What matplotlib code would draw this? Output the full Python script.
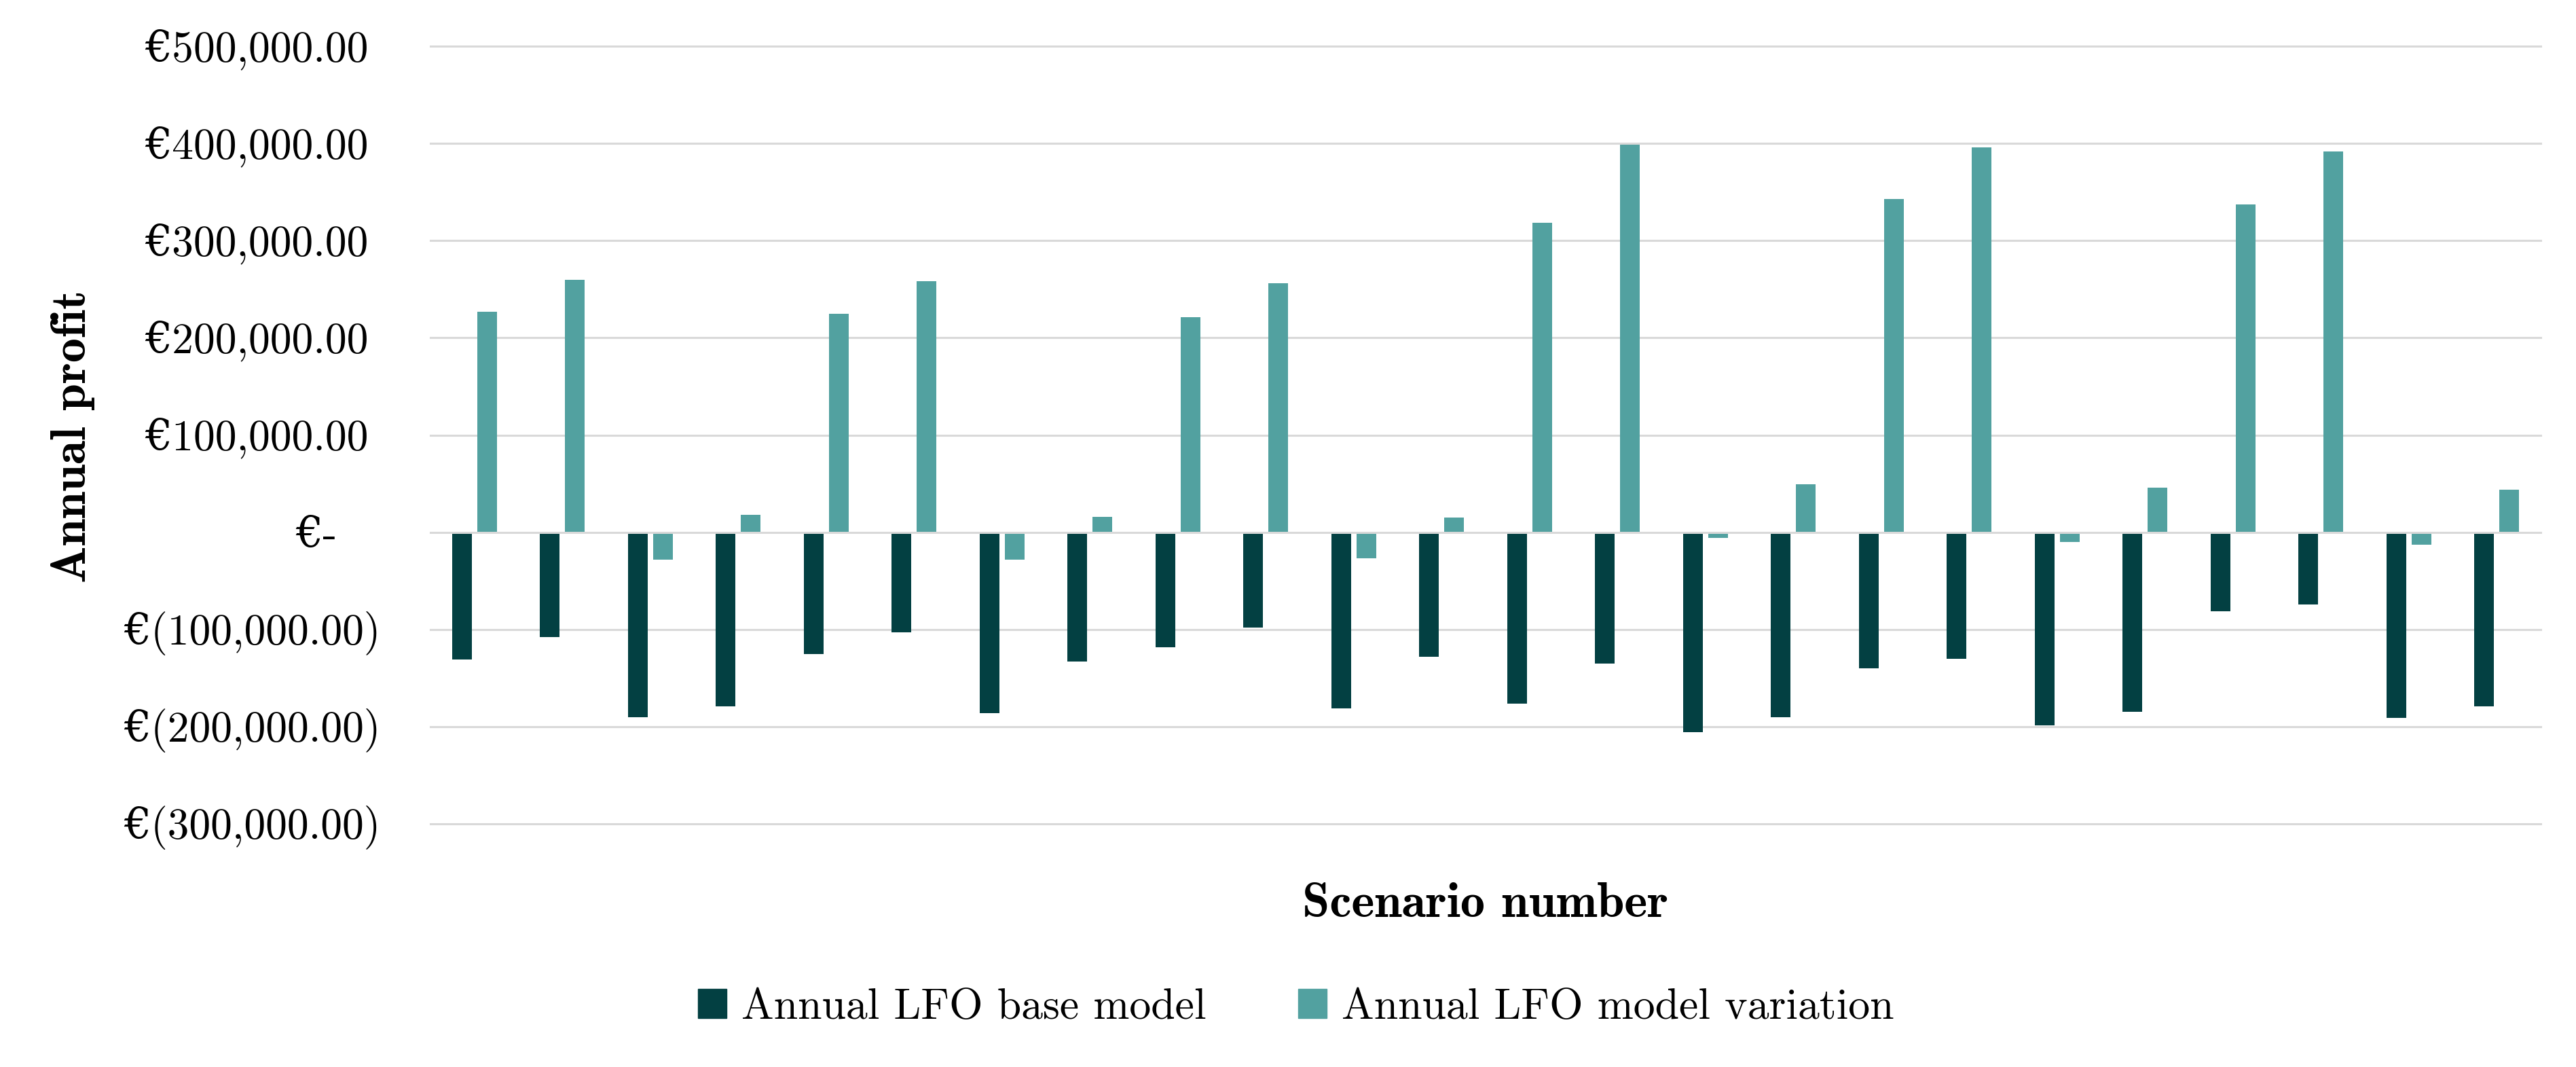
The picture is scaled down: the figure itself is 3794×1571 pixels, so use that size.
import matplotlib
matplotlib.use("Agg")
import matplotlib.pyplot as plt
import matplotlib.transforms as mtransforms
import numpy as np
from matplotlib.patches import Patch

# ---- data ----
scenarios = list(range(1, 25))
base_model = [-131000, -108000, -190000, -179000, -125000, -103000, -186000, -133000,
              -118000, -98000, -181000, -128000, -176000, -135000, -206000, -190000,
              -140000, -130000, -199000, -185000, -81000, -74000, -191000, -179000]
model_variation = [227000, 260000, -28000, 18000, 225000, 258000, -28000, 16000,
                   221000, 256000, -27000, 15000, 318000, 399000, -6000, 49000,
                   343000, 396000, -10000, 46000, 337000, 392000, -13000, 44000]
series_names = ["Annual LFO base model", "Annual LFO model variation"]
y_ticks = [-300000, -200000, -100000, 0, 100000, 200000, 300000, 400000, 500000]
y_tick_labels = ["€(300,000.00)", "€(200,000.00)", "€(100,000.00)", "€-",
                 "€100,000.00", "€200,000.00", "€300,000.00", "€400,000.00", "€500,000.00"]
x_label = "Scenario number"
y_label = "Annual profit"

# ---- style ----
C_BASE = "#034042"
C_VAR = "#52A1A0"
GRID = "#D9D9D9"
REG = ["cmr10", "DejaVu Serif"]
BOLD = ["cmb10", "DejaVu Serif"]
DPI = 100

W, H = 3794, 1571
fig = plt.figure(figsize=(W / DPI, H / DPI), dpi=DPI)
renderer = fig.canvas.get_renderer()


def fit_size(s, family, target_px):
    t = fig.text(0, 0, s, family=family, fontsize=40)
    bb = t.get_window_extent(renderer)
    t.remove()
    return 40 * target_px / bb.width


FS_TICK = fit_size("€500,000.00", REG, 329)
FS_YLAB = fit_size(y_label, BOLD, 431)
FS_XLAB = fit_size(x_label, BOLD, 539)
FS_LEG = fit_size(series_names[0], REG, 685)

L, R, T, B = 634, 3742, 68, 1213
ax = fig.add_axes([L / W, 1 - B / H, (R - L) / W, (B - T) / H])

x = np.arange(len(scenarios))
bw = 0.222
off = 0.142
ax.bar(x - off, base_model, width=bw, color=C_BASE, zorder=2)
ax.bar(x + off, model_variation, width=bw, color=C_VAR, zorder=2)

ax.set_xlim(-0.5, len(scenarios) - 0.5)
ax.set_ylim(-300000, 500000)
ax.set_yticks(y_ticks)
ax.set_yticklabels([])
ax.set_xticks([])
ax.tick_params(axis="y", length=0)

for v in y_ticks:
    ax.axhline(v, color=GRID, lw=2.2, zorder=1 if v != 0 else 3, clip_on=False)
for s in ax.spines.values():
    s.set_visible(False)

# accounting-style tick labels: positives / negatives / zero have different right edges
blend = mtransforms.blended_transform_factory(fig.transFigure, ax.transData)
down = mtransforms.ScaledTranslation(0, -22 / DPI, fig.dpi_scale_trans)
for v, lab in zip(y_ticks, y_tick_labels):
    if v > 0:
        xr = 543
    elif v < 0:
        xr = 561
    else:
        xr = 497
    ax.text(xr / W, v, lab, transform=blend + down, ha="right", va="baseline",
            family=REG, fontsize=FS_TICK, clip_on=False)

fig.text(108 / W, 1 - 642 / H, y_label, rotation=90, ha="center", va="center",
         family=BOLD, fontsize=FS_YLAB)
fig.text((L + R) / 2 / W, 1 - 1350 / H, x_label, ha="center", va="baseline",
         family=BOLD, fontsize=FS_XLAB)

fs_px = FS_LEG * DPI / 72
handles = [Patch(color=C_BASE), Patch(color=C_VAR)]
leg = fig.legend(handles, series_names, loc="center", bbox_to_anchor=(1908.5 / W, 1 - 1484 / H),
                 ncol=2, frameon=False, prop={"family": REG, "size": FS_LEG},
                 handlelength=42 / fs_px, handleheight=41 / fs_px,
                 handletextpad=22 / fs_px, columnspacing=135 / fs_px,
                 borderpad=0, borderaxespad=0)

fig.savefig("out.png", dpi=DPI, facecolor="white")
